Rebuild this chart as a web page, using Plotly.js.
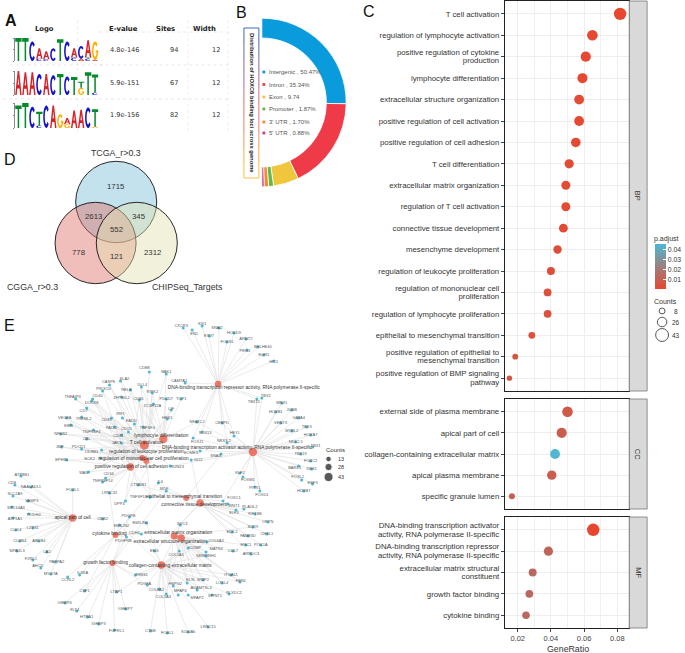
<!DOCTYPE html>
<html><head><meta charset="utf-8">
<script src="https://cdn.plot.ly/plotly-3.0.1.min.js"></script>
<style>html,body{margin:0;padding:0;background:#fff}#chart{width:685px;height:653px}#chart svg{opacity:.999}</style></head>
<body><div id="chart"></div>
<script>
// ---------- Panel C : GO dot plot ----------
const bpTerms=["T cell activation","regulation of lymphocyte activation","positive regulation of cytokine<br>production","lymphocyte differentiation","extracellular structure organization","positive regulation of cell activation","positive regulation of cell adhesion","T cell differentiation","extracellular matrix organization","regulation of T cell activation","connective tissue development","mesenchyme development","regulation of leukocyte proliferation","regulation of mononuclear cell<br>proliferation","regulation of lymphocyte proliferation","epithelial to mesenchymal transition","positive regulation of epithelial to<br>mesenchymal transition","positive regulation of BMP signaling<br>pathway"];
const bpRatio=[0.0817,0.065,0.061,0.059,0.057,0.057,0.055,0.051,0.049,0.049,0.0475,0.044,0.04,0.038,0.038,0.0285,0.0185,0.015];
const bpCount=[43,34,32,31,30,30,29,27,26,26,25,23,21,20,20,15,10,8];
const bpAdjust=[0.0005,0.001,0.001,0.001,0.002,0.001,0.002,0.002,0.002,0.002,0.002,0.003,0.003,0.004,0.004,0.004,0.006,0.006];
const ccTerms=["external side of plasma membrane","apical part of cell","collagen-containing extracellular matrix","apical plasma membrane","specific granule lumen"];
const ccRatio=[0.05,0.0465,0.0425,0.0405,0.0165];
const ccCount=[34,32,30,28,11];
const ccAdjust=[0.008,0.009,0.045,0.009,0.01];
const mfTerms=["DNA-binding transcription activator<br>activity, RNA polymerase II-specific","DNA-binding transcription repressor<br>activity, RNA polymerase II-specific","extracellular matrix structural<br>constituent","growth factor binding","cytokine binding"];
const mfRatio=[0.0655,0.0385,0.029,0.027,0.025];
const mfCount=[43,27,21,20,19];
const mfAdjust=[0.0005,0.012,0.014,0.014,0.014];
const adjustTicks=[0.01,0.02,0.03,0.04];
const countLegend=[8,26,43];
// ---------- Panel B : peak distribution ----------
const peakLabels=["Intergenic , 50.47%","Intron , 35.34%","Exon , 9.74","Promoter , 1.87%","3' UTR , 1.70%","5' UTR , 0.88%"];
const peakValues=[50.47,35.34,9.74,1.87,1.70,0.88];
const peakColors=["#0a9bdc","#ef3b48","#efc63c","#63b848","#f08c2e","#c43c8c"];
// ---------- Panel A : motif table ----------
const motifEvalues=["4.8e-146","5.9e-151","1.9e-156"];
const motifSites=["94","67","82"];
const motifWidth=["12","12","12"];
const motif1=[["T2"],["T2"],["C1.7"],["C.2","A.9"],["C.15","A.7"],["C1.1"],["T1.9"],["C1.7"],["C.3","A.8"],["A.2","C1.1"],["C.2","T.1","A1.5"],["A.1","G1.6"]];
const motif2=[["A2"],["A1.9"],["A1.9"],["C1.75"],["A1.75"],["C1.65"],["T1.75"],["C1.55"],["T1.5"],["G.6","T.5"],["T1.9"],["C.2","T1.5"]];
const motif3=[["T1.8"],["T2"],["C1.7"],["C.2","T1.1"],["C1.8"],["A1.8"],["G1.1"],["G.3","A.5"],["A1.4"],["A1.45"],["C1.65"],["G.1","T1.4"]];
// ---------- Panel D : Venn ----------
const vennSets=["TCGA_r>0.3","CGGA_r>0.3","CHIPSeq_Targets"];
const vennCounts=["1715","2613","345","552","778","2312","121"];
// ---------- Panel E : network ----------
const termNames=["T cell activation","lymphocyte differentiation","regulation of mononuclear cell proliferation","regulation of leukocyte proliferation","positive regulation of cell adhesion","DNA-binding transcription repressor activity, RNA polymerase II-specific","DNA-binding transcription activator activity, RNA polymerase II-specific","apical part of cell","cytokine binding","growth factor binding","collagen-containing extracellular matrix","extracellular matrix organization","extracellular structure organization","epithelial to mesenchymal transition","connective tissue development"];
const termCodes="TLMKHRVAYGCOSED";
const termX=[145,164,143,147,131,219,254,73,116,113,162,175,182,187,201];
const termY=[445,439,458,461,467,384,452,518,535,563,565,536,538,498,503];
const termLabelX=[147,162,144,147,132,245,238,73,110,106,171,179,171,185,195];
const termLabelY=[443,436,459,452,467,388,448,518,534,563,566,533,542,497,505];
const termCount=[43,38,20,20,30,23,38,30,20,20,30,28,30,20,30];
const immuneGenes=[["CD8B",150,372,145,368,"T"],["BAK1",167,374,167,372,"TL"],["CASP8",110,385,109,382,"TK"],["SLA2",121,381,125,379,"TL"],["DLL4",142,387,143,385,"TL"],["RELB",131,390,127,390,"TL"],["PIK3CG",103,391,104,389,"TH"],["RIPK2",153,393,153,392,"TLK"],["CD40",93,399,98,396,"TKH"],["ZFP36L2",122,397,122,398,"T"],["CD80",140,400,139,399,"THK"],["TNFAIP3",76,399,73,397,"TK"],["DOCK8",92,401,92,403,"TM"],["ZC3H12A",154,404,153,406,"TK"],["CD7",87,408,84,411,"T"],["VEGFA",67,418,65,418,"HK"],["TREML2",82,417,84,419,"TK"],["CD83",112,418,107,420,"TKM"],["IRF1",123,418,121,414,"T"],["FADD",135,424,132,421,"T"],["TNFSF4",144,427,148,428,"THK"],["HES1",168,419,168,418,"LT"],["PDCD7",167,399,167,399,"L"],["TOP1",182,399,182,399,"L"],["LIF",172,410,172,409,"KH"],["TNFRSF4",94,430,92,432,"TKM"],["EBI3",71,425,69,426,"TM"],["NFKB2",61,434,61,434,"TL"],["PADI2",115,427,112,428,"TH"],["CD1D",129,432,127,429,"TM"],["CD81",122,435,119,436,"TKH"],["CBL",87,439,87,439,"TK"],["JAK3",122,443,117,443,"TLM"],["JMP",62,447,60,447,"KM"],["PDCD1",82,449,79,447,"TKM"],["LILRB1",102,450,92,452,"TK"],["NCK2",101,458,90,459,"TH"],["EPHB1",67,460,62,460,"HM"],["WAS",89,472,84,473,"TH"],["CD34",106,478,109,474,"H"],["TNFRSF14",103,482,103,481,"TKH"],["CTNNB1",139,485,139,485,"HLE"],["LRRC32",110,493,110,493,"HY"],["DPP4",126,501,120,504,"TH"],["TNFSF18",151,497,139,497,"HK"]];
const repressorGenes=[["CXCR3",184,328,182,326,"R"],["SIX1",203,326,203,324,"R"],["EN1",193,330,195,334,"R"],["SNAI2",220,328,218,328,"R"],["ETV7",210,336,210,336,"R"],["HOXD9",235,333,235,333,"R"],["FOXS1",228,342,228,342,"R"],["ARNT2",247,339,247,339,"R"],["PEG3",248,350,246,351,"R"],["BHLHE40",259,347,264,347,"R"],["EGR1",265,355,265,355,"R"],["HIC1",275,361,275,362,"R"],["CAMTA1",186,383,180,381,"R"],["TBX2",263,398,267,396,"RV"],["TBX15",258,399,255,402,"RV"],["FOXJ1",194,438,198,442,"RV"],["SOX13",203,432,206,433,"RV"],["NFATC2",198,422,198,422,"RLV"],["CEBPD",223,423,223,423,"RV"],["HEYL",235,436,236,433,"RV"],["NKX3-2",228,443,225,441,"RV"]];
const activatorGenes=[["MNX1",283,403,283,403,"V"],["HOXB1",277,412,277,412,"V"],["JUNB",293,410,293,410,"V"],["GATA4",300,418,300,418,"V"],["VENTX",282,423,282,423,"V"],["MYBL2",293,431,293,431,"V"],["TBX3",308,427,308,427,"V"],["HOXA7",312,435,312,435,"V"],["NKX2-5",297,442,297,442,"V"],["TBX1",314,447,317,446,"V"],["TBX19",302,454,302,454,"V"],["FOXC2",312,461,312,461,"V"],["BARX1",300,466,296,468,"V"],["DBX1",313,469,313,469,"V"],["FOXL2",303,480,299,477,"V"],["EBF3",314,484,314,483,"V"],["HOXB7",305,491,305,491,"V"],["PITX1",256,487,256,488,"V"],["FOXD1",261,491,263,495,"V"],["FOXC1",224,501,235,498,"VE"],["KLF2",241,473,241,473,"V"],["FOXM1",244,477,249,480,"V"],["EOMES",201,451,192,453,"VT"],["GLI2",192,460,199,460,"VD"],["SNAI1",222,454,217,456,"VE"],["RUNX3",171,466,178,467,"VT"]];
const apicalGenes=[["CD8",15,485,12,483,"A"],["ATP8B1",21,476,22,475,"A"],["NAALADL1",31,487,31,487,"A"],["SLC2A9",13,496,15,494,"A"],["VAMP3",28,501,32,501,"A"],["SRC14A3",12,507,16,508,"A"],["ATP1A1",13,518,15,519,"A"],["PCDH4",29,514,34,515,"A"],["LZTS1",33,528,33,528,"A"],["CLIC4",16,530,16,530,"A"],["CLDN4",20,541,20,541,"A"],["ABCB4",39,541,39,541,"A"],["SIPA1L3",17,551,17,551,"A"],["CA2",47,552,47,552,"A"],["F2RL1",33,560,31,559,"A"],["PAPPA2",56,562,57,562,"A"],["AHCD",41,568,38,566,"A"],["MYO7A",51,574,51,574,"A"],["FOXL1",73,490,73,490,"A"],["CRB2",103,519,103,519,"A"]];
const growthGenes=[["CCRL2",68,577,68,580,"Y"],["IL6RA",80,575,83,573,"Y"],["CSF1",85,591,85,591,"YG"],["IGFBP4",65,603,65,603,"G"],["FLT4",77,611,75,610,"G"],["HTRA1",88,617,87,617,"G"],["IGFBP3",99,624,99,624,"G"],["IGFBP7",126,609,126,609,"G"],["FGFRL1",115,630,117,631,"G"],["LTBP1",117,592,117,592,"GC"],["PDGFRB",127,537,124,541,"YG"],["CDH4",142,534,135,533,"Y"],["EMILIN2",120,525,122,526,"YC"],["EMILIN1",147,523,141,523,"C"],["PDGFB",130,517,129,516,"YG"],["IL6",159,483,161,482,"YE"],["MDK",167,491,165,489,"GD"]];
const matrixGenes=[["THBS1",136,575,142,575,"GC"],["CTSB",151,631,151,631,"C"],["PDGFA",148,585,145,584,"GC"],["COL8A2",160,589,157,590,"C"],["COL5A3",167,594,164,597,"COS"],["ENG",155,551,155,551,"CD"],["WNT1",229,504,235,506,"D"],["ELF3",237,510,235,513,"D"],["PLAGL2",245,509,251,507,"D"],["KIF18B",256,514,256,514,"D"],["OPTN",269,522,269,522,"D"],["SOX9",254,527,254,527,"DO"],["EDIL2",233,532,233,532,"D"],["FAM83D",249,536,249,536,"D"],["CHSL1",268,534,268,534,"D"],["ENC1",247,545,247,545,"O"],["POC1A",262,545,262,545,"D"],["ARRDC3",252,554,252,554,"D"],["CUL7",234,551,234,551,"O"],["COL6A3",208,542,217,541,"COS"],["MATN4",207,552,217,549,"OS"],["COMP",189,548,196,548,"COS"],["SERPINH1",207,556,207,556,"CS"],["COL5A1",180,551,177,555,"COS"],["SDC3",181,525,183,524,"CD"],["ITGA11",232,575,232,575,"CO"],["FBN1",241,582,242,581,"COS"],["LOXL4",223,583,223,583,"OS"],["ELN",188,583,191,580,"COS"],["MMP2",204,580,204,580,"COS"],["ADAMTSL4",198,590,202,588,"CS"],["PLXDC2",230,594,235,593,"C"],["SPINT1",213,595,216,596,"C"],["HSPG2",174,586,176,584,"C"],["MFAP4",179,595,181,591,"C"],["MFAP2",189,595,198,598,"C"],["LRRC15",209,627,209,627,"C"],["S100A6",189,632,189,632,"C"],["FOSL1",168,633,168,633,"C"]];
const netLegend=[13,28,43];

const LW=685,LH=653;
const FONT='"Liberation Sans", Arial, sans-serif';
const RED='#e8472f',BLUE='#4db9d2';
const xd=(a,b)=>[a/LW,b/LW];
const yd=(t,b)=>[1-b/LH,1-t/LH];
const dotSize=c=>3.8+0.2*c;
const traces=[],shapes=[],annos=[];
function note(text,x,y,size,o){o=o||{};annos.push(Object.assign({text,x,y,xref:'x4',yref:'y4',showarrow:false,xanchor:'center',yanchor:'middle',borderpad:0,font:{family:o.family||FONT,size,color:o.color||'#333'}},o.extra||{}));}

// --- dot plot
function dotTrace(ratio,terms,count,adj,ax,ay){traces.push({type:'scatter',mode:'markers',x:ratio,y:terms,xaxis:ax,yaxis:ay,cliponaxis:false,hoverinfo:'x+y',
  marker:{size:count.map(dotSize),color:adj,coloraxis:'coloraxis',line:{width:0},opacity:1}});}
dotTrace(bpRatio,bpTerms,bpCount,bpAdjust,'x','y');
dotTrace(ccRatio,ccTerms,ccCount,ccAdjust,'x2','y2');
dotTrace(mfRatio,mfTerms,mfCount,mfAdjust,'x3','y3');
function xAxis(dom,anchor,ticks,extra){return Object.assign({domain:dom,anchor,range:[0.0122,0.0872],fixedrange:true,dtick:0.02,tick0:0,tickformat:'.2f',showgrid:true,gridcolor:'#eeeeee',gridwidth:1.3,zeroline:false,showline:true,mirror:true,linecolor:'#222',linewidth:1,ticks:ticks?'outside':'',ticklen:3,tickcolor:'#444',showticklabels:ticks,tickfont:{family:FONT,size:7.5,color:'#444'},minor:{dtick:0.01,tick0:0,showgrid:true,gridcolor:'#f0f0f0',gridwidth:1,ticks:''}},extra||{});}
function yAxis(dom,anchor,terms){return {domain:dom,anchor,type:'category',categoryorder:'array',categoryarray:terms,range:[terms.length-1+0.6,-0.6],fixedrange:true,showgrid:true,gridcolor:'#eeeeee',gridwidth:1.3,zeroline:false,showline:true,mirror:true,linecolor:'#222',linewidth:1,ticks:'outside',ticklen:3,tickcolor:'#444',tickfont:{family:FONT,size:7.8,color:'#333'}};}

// --- strips
[[1,391,'BP'],[399,509,'CC'],[517,628,'MF']].forEach(s=>{
  shapes.push({type:'rect',xref:'x4',yref:'y4',x0:632,x1:650,y0:s[0],y1:s[1],fillcolor:'#d9d9d9',line:{color:'#777',width:0.8}});
  note(s[2],641,(s[0]+s[1])/2,7.5,{extra:{textangle:90},color:'#333'});
});
// --- legends for the dot plot
note('p.adjust',669,239,7,{});
note('Counts',668,301,7,{});
traces.push({type:'scatter',mode:'markers',x:[665,665,665],y:[311,322,335],xaxis:'x4',yaxis:'y4',hoverinfo:'skip',
  marker:{size:countLegend.map(c=>dotSize(c)+0.5),color:'rgba(0,0,0,0)',line:{color:'#111',width:1}}});
countLegend.forEach((c,i)=>note(String(c),679,[311,322,335][i],6.5,{}));
note('GeneRatio',570,649,8.8,{color:'#333'});

// --- pie
traces.push({type:'pie',values:peakValues.concat([100]),labels:peakLabels.concat(['hidden']),sort:false,direction:'clockwise',rotation:0,hole:0.765,textinfo:'none',hoverinfo:'label',
  domain:{x:xd(178.3,347.7),y:yd(17.8,187.2)},showlegend:false,
  marker:{colors:peakColors.concat(['rgba(0,0,0,0)']),line:{color:peakColors.map(()=>'#ffffff').concat(['rgba(0,0,0,0)']),width:peakColors.map(()=>0.8).concat([0])}}});
peakLabels.forEach((t,i)=>{const y=[72,84.5,97,109,122,133][i];
  traces.push({type:'scatter',mode:'markers',x:[265],y:[y],xaxis:'x4',yaxis:'y4',hoverinfo:'skip',marker:{symbol:'square',size:2.8,color:peakColors[i]}});
  annos.push({text:t,x:268,y,xref:'x4',yref:'y4',showarrow:false,xanchor:'left',yanchor:'middle',font:{family:FONT,size:6,color:'#555'}});
});
// gradient frame
const frameStops=['#3f69b5','#5e66ad','#8c64a0','#b46690','#d86a80','#ec7078','#f27f6c','#f5965c','#f6ad4c','#f7c23e'];
frameStops.forEach((c,i)=>{const y0=28+i*15,y1=y0+15;
  shapes.push({type:'line',xref:'x4',yref:'y4',x0:245,x1:245,y0,y1,line:{color:c,width:1}});
  shapes.push({type:'line',xref:'x4',yref:'y4',x0:260,x1:260,y0,y1,line:{color:c,width:1}});});
shapes.push({type:'line',xref:'x4',yref:'y4',x0:245,x1:260,y0:28,y1:28,line:{color:frameStops[0],width:1}});
shapes.push({type:'line',xref:'x4',yref:'y4',x0:245,x1:260,y0:178,y1:178,line:{color:frameStops[9],width:1}});
note('Distribution of HOXC6 binding loci across genome',253,103,5.8,{color:'#222',extra:{textangle:90,font:{family:FONT,size:5.8,color:'#222',weight:700}}});

// --- sequence logos
const logoColors={A:'#d8232a',C:'#1414c8',G:'#ffb000',T:'#078a2c'};
function arc(a0,a1,rx,ry,n){const p=[];for(let i=0;i<=n;i++){const a=(a0+(a1-a0)*i/n)*Math.PI/180;p.push([0.5+rx*Math.cos(a),0.5+ry*Math.sin(a)]);}return p;}
const glyphs={
 T:[[[0,1],[1,1],[1,.84],[.62,.84],[.62,0],[.38,0],[.38,.84],[0,.84]]],
 A:[[[0,0],[.38,1],[.62,1],[1,0],[.77,0],[.67,.27],[.33,.27],[.23,0]],[[.4,.43],[.6,.43],[.5,.74]]],
 C:[arc(40,320,.48,.5,24).concat(arc(320,40,.24,.33,24))],
 G:[arc(40,340,.48,.5,24).concat([[.98,.33],[.98,.52],[.6,.52],[.6,.38],[.76,.38]]).concat(arc(320,40,.24,.33,24))]
};
function glyphPath(letter,col,base,h){return glyphs[letter].map(poly=>'M'+poly.map(p=>(col+0.04+p[0]*0.92).toFixed(3)+','+(base+p[1]*h).toFixed(3)).join('L')+'Z').join(' ');}
[motif1,motif2,motif3].forEach((m,k)=>{const id=k+5;
  m.forEach((stack,col)=>{let base=0;stack.forEach(s=>{const L=s[0],h=parseFloat(s.slice(1));
    shapes.push({type:'path',xref:'x'+id,yref:'y'+id,path:glyphPath(L,col,base,h),fillcolor:logoColors[L],line:{width:0}});base+=h;});});
  traces.push({type:'scatter',mode:'markers',x:[0],y:[0],xaxis:'x'+id,yaxis:'y'+id,hoverinfo:'skip',marker:{size:1,color:'rgba(0,0,0,0)'}});
});
function logoAxes(t,b){return [{domain:xd(15,99),range:[0,12],showgrid:false,zeroline:false,showticklabels:false,fixedrange:true,ticks:'',showline:false},
  {domain:yd(t,b),range:[0,2],showgrid:false,zeroline:false,showticklabels:false,fixedrange:true,ticks:'outside',ticklen:1.5,tickcolor:'#888',tickvals:[0,1,2],showline:true,linecolor:'#888',linewidth:0.8}];}
// table
const tx=[45,124,166,205];
['Logo','E-value','Sites','Width'].forEach((t,i)=>note('<b>'+t+'</b>',tx[i],29,6.8,{family:'"DejaVu Sans"',color:'#222'}));
[50,83,115].forEach((y,i)=>{note(motifEvalues[i],126,y,6.6,{family:'"DejaVu Sans"',color:'#333'});
  note(motifSites[i],175,y,6.6,{family:'"DejaVu Sans"',color:'#333'});
  note(motifWidth[i],217,y,6.6,{family:'"DejaVu Sans"',color:'#333'});});
[[100,230,32],[10,105,65],[3,230,99],[100,230,65]].forEach(l=>shapes.push({type:'line',xref:'x4',yref:'y4',x0:l[0],x1:l[1],y0:l[2],y1:l[2],layer:'below',line:{color:'#dddddd',width:0.7,dash:'dot'}}));
[[78,20,133],[189,20,133],[229,20,133]].forEach(l=>shapes.push({type:'line',xref:'x4',yref:'y4',x0:l[0],x1:l[0],y0:l[1],y1:l[2],layer:'below',line:{color:'#e6e6e6',width:0.7,dash:'dot'}}));

// --- Venn
[[116.7,202,'rgba(135,198,222,0.5)'],[96,243,'rgba(222,110,100,0.44)'],[137.4,243,'rgba(226,226,178,0.45)']].forEach(c=>{
  shapes.push({type:'circle',xref:'x4',yref:'y4',x0:c[0]-40.7,x1:c[0]+40.7,y0:c[1]-40.7,y1:c[1]+40.7,fillcolor:c[2],line:{color:'#111',width:0.9}});});
note(vennSets[0],117,153,8.8,{});note(vennSets[1],33,287,8.8,{});note(vennSets[2],188,287,8.8,{});
[[117,186],[94,216],[140,216],[117,229],[79,252],[153,252],[117,256]].forEach((p,i)=>note(vennCounts[i],p[0],p[1],7.8,{}));

// --- Network
const allGenes=[...immuneGenes,...repressorGenes,...activatorGenes,...apicalGenes,...growthGenes,...matrixGenes];
const ex=[],ey=[];
allGenes.forEach(g=>{for(const ch of g[5]){const t=termCodes.indexOf(ch);ex.push(g[1],termX[t],null);ey.push(g[2],termY[t],null);}});
traces.push({type:'scatter',mode:'lines',x:ex,y:ey,xaxis:'x4',yaxis:'y4',hoverinfo:'skip',line:{color:'#e2e2e2',width:0.7}});
traces.push({type:'scatter',mode:'markers',x:allGenes.map(g=>g[1]),y:allGenes.map(g=>g[2]),xaxis:'x4',yaxis:'y4',hoverinfo:'skip',marker:{size:3,color:BLUE,line:{width:0}}});
traces.push({type:'scatter',mode:'markers',x:termX,y:termY,xaxis:'x4',yaxis:'y4',text:termNames,hoverinfo:'text',marker:{size:termCount.map(c=>3.5+0.13*c),color:RED,line:{width:0}}});
traces.push({type:'scatter',mode:'text',x:allGenes.map(g=>g[3]),y:allGenes.map(g=>g[4]),text:allGenes.map(g=>g[0]),xaxis:'x4',yaxis:'y4',hoverinfo:'skip',textposition:'middle center',textfont:{family:FONT,size:4,color:'#555'},cliponaxis:false});
traces.push({type:'scatter',mode:'text',x:termLabelX,y:termLabelY,text:termNames,xaxis:'x4',yaxis:'y4',hoverinfo:'skip',textposition:'middle center',textfont:{family:FONT,size:4.8,color:'#333'},cliponaxis:false});
note('Counts',337,450,6,{});
traces.push({type:'scatter',mode:'markers',x:[330,330,330],y:[459,467,477],xaxis:'x4',yaxis:'y4',hoverinfo:'skip',marker:{size:netLegend.map(c=>4+0.12*c),color:'#111'}});
netLegend.forEach((c,i)=>note(String(c),342,[459,467,477][i],5.5,{}));

// --- Panel letters
[['<b>A</b>',11,20],['B',243,12],['C',371,11],['D',10,159],['E',10,325]].forEach(l=>note(l[0],l[1],l[2],16,{color:'#111'}));

const la1=logoAxes(38,61),la2=logoAxes(71,95),la3=logoAxes(103,128);
const layout={width:LW,height:LH,autosize:false,margin:{l:0,r:0,t:0,b:0,pad:0},showlegend:false,paper_bgcolor:'#fff',plot_bgcolor:'rgba(0,0,0,0)',font:{family:FONT},
 xaxis:xAxis(xd(507,632),'y',false),yaxis:yAxis(yd(1,391),'x',bpTerms),
 xaxis2:xAxis(xd(507,632),'y2',false),yaxis2:yAxis(yd(399,509),'x2',ccTerms),
 xaxis3:xAxis(xd(507,632),'y3',true),yaxis3:yAxis(yd(517,628),'x3',mfTerms),
 xaxis4:{domain:[0,1],range:[0,LW],visible:false,fixedrange:true,anchor:'y4'},yaxis4:{domain:[0,1],range:[LH,0],visible:false,fixedrange:true,anchor:'x4'},
 xaxis5:Object.assign(la1[0],{anchor:'y5'}),yaxis5:Object.assign(la1[1],{anchor:'x5'}),
 xaxis6:Object.assign(la2[0],{anchor:'y6'}),yaxis6:Object.assign(la2[1],{anchor:'x6'}),
 xaxis7:Object.assign(la3[0],{anchor:'y7'}),yaxis7:Object.assign(la3[1],{anchor:'x7'}),
 coloraxis:{cmin:0.0005,cmax:0.0455,colorscale:[[0,RED],[1,BLUE]],colorbar:{x:658/LW,xanchor:'left',y:1-244/LH,yanchor:'top',len:45,lenmode:'pixels',thickness:11,thicknessmode:'pixels',xpad:0,ypad:0,outlinewidth:0,borderwidth:0,ticks:'inside',ticklen:3,tickcolor:'#fff',tickvals:adjustTicks,tickformat:'.2f',tickfont:{family:FONT,size:6.8,color:'#333'}}},
 shapes,annotations:annos,hovermode:'closest'};
Plotly.newPlot('chart',traces,layout,{displayModeBar:false}).then(gd=>{
  // tighten the wrapped tick labels towards the reference's line spacing
  gd.querySelectorAll('.ytick text, .y2tick text, .y3tick text').forEach(t=>{const lines=t.querySelectorAll('tspan.line');
    if(lines.length===2){lines[0].setAttribute('dy','0.07em');lines[1].setAttribute('dy','1.16em');}});
});
</script></body></html>
